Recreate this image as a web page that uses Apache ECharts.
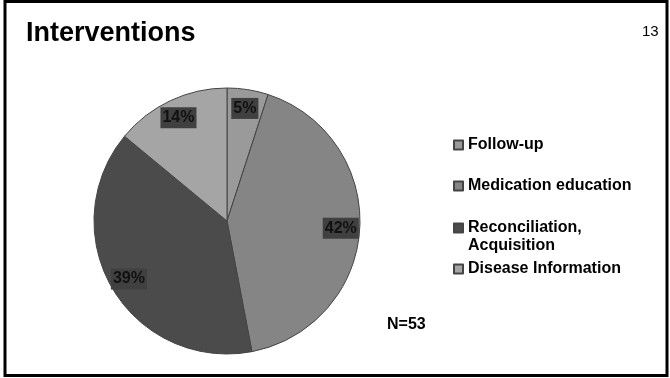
<!DOCTYPE html>
<html>
<head>
<meta charset="utf-8">
<script src="https://cdn.jsdelivr.net/npm/echarts@6/dist/echarts.min.js"></script>
<style>
  html,body{margin:0;padding:0;background:#fff;}
  #main{width:670px;height:378px;}
</style>
</head>
<body>
<div id="main"></div>
<script>
// slide data
const categories = ['Follow-up', 'Medication education', 'Reconciliation,\nAcquisition', 'Disease Information'];
const percents = [5, 42, 39, 14];
const sliceColors = ['#9a9a9a', '#858585', '#4b4b4b', '#a5a5a5'];
const legendTops = [136, 177, 201, 260];

const cx = 227, cy = 221, R = 133;
const FONT = 'Liberation Sans, Arial, sans-serif';

var myChart = echarts.init(document.getElementById('main'));

const pieData = categories.map((name, i) => ({
  name: name,
  value: percents[i],
  itemStyle: { color: sliceColors[i] }
}));

// one legend per entry so the spacing can follow the slide
const legends = categories.map((name, i) => ({
  data: [name],
  left: 453,
  top: legendTops[i],
  padding: 0,
  icon: 'rect',
  itemWidth: 9,
  itemHeight: 9,
  selectedMode: false,
  // blank line on top keeps the square level with the first line of the 2-line entry
  formatter: n => (n.indexOf('\n') > -1 ? ' \n' + n : n),
  textStyle: {
    fontFamily: FONT,
    fontWeight: 'bold',
    fontSize: 16,
    color: '#000',
    lineHeight: 18
  }
}));

myChart.setOption({
  backgroundColor: '#fff',
  animation: false,
  title: {
    text: 'Interventions',
    left: 26,
    top: 20,
    padding: 0,
    textStyle: {
      fontFamily: FONT,
      fontWeight: 'bold',
      fontSize: 27,
      color: '#000'
    }
  },
  legend: legends,
  graphic: [
    {
      type: 'rect',
      shape: { x: 5, y: 1.5, width: 662, height: 374 },
      style: { fill: 'none', stroke: '#000', lineWidth: 3 },
      silent: true
    },
    {
      type: 'text',
      left: 642,
      top: 24,
      style: { text: '13', font: '15px ' + FONT, fill: '#000' }
    },
    {
      type: 'text',
      left: 387,
      top: 317,
      style: { text: 'N=53', font: 'bold 16px ' + FONT, fill: '#000' }
    }
  ],
  series: [
    {
      name: 'Interventions',
      type: 'pie',
      center: [cx, cy],
      radius: [0, R],
      startAngle: 90,
      clockwise: true,
      data: pieData,
      itemStyle: { borderColor: '#444', borderWidth: 1 },
      emphasis: { disabled: true },
      label: {
        show: true,
        position: 'inside',
        formatter: '{c}%',
        fontFamily: FONT,
        fontWeight: 'bold',
        fontSize: 16,
        color: '#111',
        backgroundColor: '#404040',
        padding: [3, 2, 2, 2]
      },
      // push the labels out towards the rim like the slide
      labelLayout: function (params) {
        const r = params.labelRect;
        const mx = r.x + r.width / 2, my = r.y + r.height / 2;
        return { x: cx + (mx - cx) * 1.64, y: cy + (my - cy) * 1.64 };
      }
    }
  ]
});
</script>
</body>
</html>
